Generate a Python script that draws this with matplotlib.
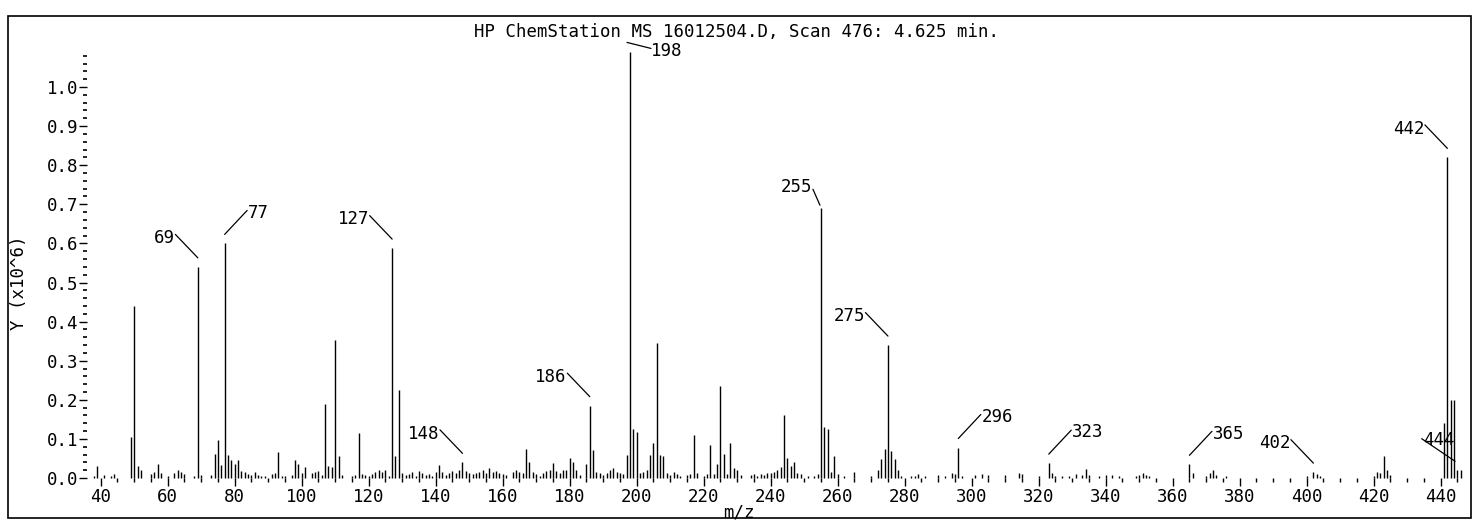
import matplotlib
matplotlib.use("Agg")
import matplotlib.pyplot as plt
from matplotlib.patches import Rectangle
from matplotlib.ticker import MultipleLocator, FixedLocator
from matplotlib.transforms import offset_copy

# spectrum, scan 476 (4.625 min); abundance in units of 10^6
mz = [38, 39, 41, 43, 44, 49, 50, 51, 52, 55, 56, 57, 58, 60, 62, 63, 64, 65,
      68, 69, 70, 73, 74, 75, 76, 77, 78, 79, 80, 81, 82, 83, 84, 85, 86, 87, 88, 89,
      91, 92, 93, 94, 95, 97, 98, 99, 100, 101, 103, 104, 105, 106, 107, 108, 109,
      110, 111, 112, 115, 116, 117, 118, 119, 120, 121, 122, 123, 124, 125, 126,
      127, 128, 129, 130, 131, 132, 133, 134, 135, 136, 137, 138, 139, 140, 141,
      142, 143, 144, 145, 146, 147, 148, 149, 150, 151, 152, 153, 154, 155, 156,
      157, 158, 159, 160, 161, 163, 164, 165, 166, 167, 168, 169, 170, 171, 172,
      173, 174, 175, 176, 177, 178, 179, 180, 181, 182, 183, 185, 186, 187, 188,
      189, 190, 191, 192, 193, 194, 195, 196, 197, 198, 199, 200, 201, 202, 203,
      204, 205, 206, 207, 208, 209, 210, 211, 212, 213, 215, 216, 217, 218, 220,
      221, 222, 223, 224, 225, 226, 227, 228, 229, 230, 231, 234, 235, 236, 237,
      238, 239, 240, 241, 242, 243, 244, 245, 246, 247, 248, 249, 251, 253, 254,
      255, 256, 257, 258, 259, 260, 262, 265, 270, 272, 273, 274, 275, 276, 277,
      278, 279, 282, 283, 284, 286, 290, 292, 294, 295, 296, 297, 301, 303, 305,
      310, 314, 315, 320, 323, 324, 325, 327, 329, 331, 333, 334, 335, 338, 340,
      342, 344, 349, 350, 351, 352, 353, 365, 366, 370, 371, 372, 373, 376, 400,
      402, 403, 404, 420, 421, 422, 423, 424, 425, 441, 442, 443, 444, 445, 446]

abundance = [0.005, 0.03, 0.008, 0.005, 0.01, 0.105, 0.44, 0.03, 0.02, 0.01, 0.015,
             0.037, 0.012, 0.005, 0.012, 0.02, 0.016, 0.01,
             0.006, 0.54, 0.008, 0.008, 0.062, 0.098, 0.034, 0.60, 0.058, 0.046,
             0.036, 0.045, 0.018, 0.016, 0.01, 0.008, 0.016, 0.008, 0.004, 0.006,
             0.01, 0.012, 0.066, 0.004, 0.006, 0.008, 0.045, 0.037, 0.012, 0.027,
             0.012, 0.015, 0.018, 0.008, 0.19, 0.03, 0.028,
             0.353, 0.056, 0.008, 0.005, 0.008, 0.116, 0.01, 0.008, 0.006, 0.01,
             0.015, 0.02, 0.016, 0.02, 0.005,
             0.588, 0.056, 0.225, 0.012, 0.008, 0.01, 0.015, 0.006, 0.018, 0.012,
             0.008, 0.01, 0.006, 0.015, 0.032,
             0.015, 0.008, 0.012, 0.018, 0.012, 0.02, 0.04, 0.018, 0.012, 0.01,
             0.014, 0.016, 0.02, 0.014, 0.026,
             0.015, 0.018, 0.012, 0.01, 0.008, 0.016, 0.02, 0.015, 0.012, 0.074,
             0.04, 0.015, 0.01, 0.004, 0.012,
             0.018, 0.02, 0.038, 0.018, 0.012, 0.02, 0.02, 0.052, 0.042, 0.02,
             0.008, 0.036, 0.185, 0.072, 0.015,
             0.012, 0.008, 0.012, 0.02, 0.025, 0.015, 0.012, 0.01, 0.058, 1.09,
             0.125, 0.118, 0.012, 0.015, 0.02,
             0.06, 0.09, 0.345, 0.058, 0.055, 0.012, 0.008, 0.015, 0.01, 0.006,
             0.008, 0.01, 0.11, 0.012, 0.005,
             0.01, 0.085, 0.01, 0.035, 0.235, 0.062, 0.01, 0.09, 0.025, 0.02,
             0.008, 0.008, 0.01, 0.006, 0.01,
             0.008, 0.012, 0.014, 0.016, 0.02, 0.028, 0.16, 0.05, 0.03, 0.042,
             0.012, 0.01, 0.006, 0.006, 0.01,
             0.69, 0.13, 0.125, 0.015, 0.055, 0.01, 0.005, 0.015, 0.006, 0.02,
             0.048, 0.074, 0.34, 0.068, 0.048,
             0.02, 0.005, 0.004, 0.006, 0.01, 0.006, 0.008, 0.006, 0.012, 0.01,
             0.078, 0.006, 0.008, 0.01, 0.008,
             0.008, 0.012, 0.01, 0.004, 0.038, 0.012, 0.006, 0.004, 0.004, 0.01,
             0.008, 0.022, 0.008, 0.004, 0.008,
             0.008, 0.006, 0.006, 0.008, 0.012, 0.008, 0.004, 0.035, 0.012, 0.006,
             0.012, 0.02, 0.008, 0.004, 0.004,
             0.015, 0.01, 0.006, 0.006, 0.015, 0.012, 0.055, 0.02, 0.008, 0.14,
             0.82, 0.2, 0.2, 0.02, 0.02]

labeled = [69, 77, 127, 148, 186, 198, 255, 275, 296, 323, 365, 402, 442, 444]

title = "HP ChemStation MS 16012504.D, Scan 476: 4.625 min."

# label placement (pixels from the peak top): text side, special cases
right_side = [77, 296, 323, 365]

MONO = "DejaVu Sans Mono"
FS = 12.5

fig = plt.figure(figsize=(14.81, 5.23), dpi=100)
ax = fig.add_axes([0.05874, 0.08604, 0.92988, 0.8074])

ax.vlines(mz, 0, abundance, colors="black", lw=1.0, clip_on=False)

ax.set_xlim(35.91, 447)
ax.set_ylim(0, 1.08)

for s in ax.spines.values():
    s.set_visible(False)

ax.xaxis.set_major_locator(FixedLocator(list(range(40, 441, 20))))
ax.xaxis.set_minor_locator(FixedLocator(list(range(40, 446, 5))))
ax.yaxis.set_major_locator(FixedLocator([i / 10 for i in range(11)]))
ax.yaxis.set_minor_locator(MultipleLocator(0.02))
ax.yaxis.set_major_formatter(plt.FuncFormatter(lambda v, p: f"{v:.1f}"))

ax.tick_params(axis="x", which="major", length=5.8, width=1.0, pad=1.5)
ax.tick_params(axis="x", which="minor", length=2.8, width=1.0)
ax.tick_params(axis="y", which="major", length=5.8, width=1.0, pad=0.5)
ax.tick_params(axis="y", which="minor", length=2.9, width=1.2)
for lab in ax.get_xticklabels() + ax.get_yticklabels():
    lab.set_family(MONO)
    lab.set_fontsize(FS)

height = dict(zip(mz, abundance))


def at(dx, dy):
    return offset_copy(ax.transData, fig=fig, x=dx, y=dy, units="dots")


def leader(x, y, p1, p2):
    ax.annotate("", xy=(x, y), xycoords=at(*p2),
                xytext=(x, y), textcoords=at(*p1),
                arrowprops=dict(arrowstyle="-", lw=0.9, color="black",
                                shrinkA=0, shrinkB=0),
                annotation_clip=False)


def label(x, y, txt, dx, dy, ha):
    ax.text(x, y, txt, transform=at(dx, dy), ha=ha, va="baseline",
            family=MONO, fontsize=FS, clip_on=False)


for p in labeled:
    h = height[p]
    if p == 198:
        leader(p, h, (-3, 9.4), (21, 3.4))
        label(p, h, str(p), 21, -4.6, "left")
    elif p == 255:
        leader(p, h, (-8, 19), (-1, 3))
        label(p, h, str(p), -9, 16, "right")
    elif p == 444:
        leader(p, 0, (-32.4, 39.3), (1, 16.7))
        label(p, 0, str(p), -31, 32.7, "left")
    elif p in right_side:
        leader(p, h, (0, 9), (22.5, 33))
        label(p, h, str(p), 23.5, 25.7, "left")
    else:
        leader(p, h, (-22.5, 32.5), (0, 9))
        label(p, h, str(p), -23, 23.7, "right")

fig.text(0.4976, 0.9287, title, ha="center", va="baseline",
         family=MONO, fontsize=FS)
fig.text(0.0125, 0.4589, "Y (x10^6)", rotation=90, ha="center", va="center",
         family=MONO, fontsize=FS)
fig.text(0.499, 0.021, "m/z", ha="center", va="center",
         family=MONO, fontsize=FS)

fig.add_artist(Rectangle((0.0054, 0.0096), 0.9879, 0.9598,
                         transform=fig.transFigure, fill=False,
                         lw=1.2, ec="black"))

fig.savefig("out.png", dpi=100)
